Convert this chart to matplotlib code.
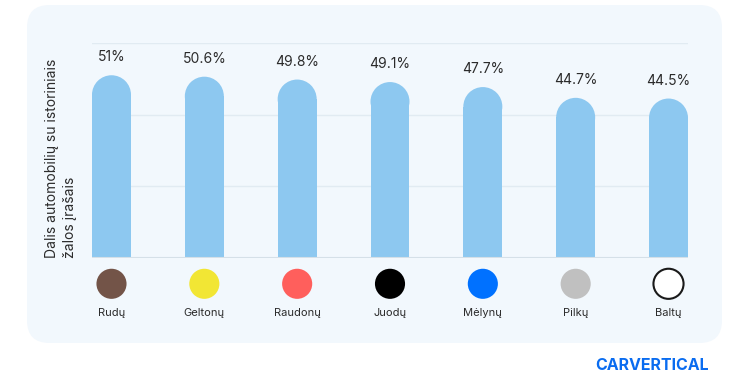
import matplotlib.pyplot as plt
from matplotlib.patches import FancyBboxPatch, Ellipse
from matplotlib.transforms import blended_transform_factory

plt.rcParams["font.family"] = ["Inter", "DejaVu Sans"]

categories = ["Rudų", "Geltonų", "Raudonų", "Juodų", "Mėlynų", "Pilkų", "Baltų"]
values = [51.0, 50.6, 49.8, 49.1, 47.7, 44.7, 44.5]
value_labels = ["51%", "50.6%", "49.8%", "49.1%", "47.7%", "44.7%", "44.5%"]
swatch_colors = ["#735448", "#F2E634", "#FF5F5C", "#000000", "#0071FF", "#C0C0C0", "#FFFFFF"]
y_ticks = [0, 20, 40, 60]

W, H = 750, 375
BAR_COLOR = "#8DC8F0"
TEXT = "#2B2B2B"

fig = plt.figure(figsize=(7.5, 3.75), dpi=100)
fig.patch.set_facecolor("white")

# rounded background panel
panel = FancyBboxPatch((27 / W, (H - 343) / H), (722 - 27) / W, (343 - 5) / H,
                       boxstyle="round,pad=0,rounding_size=0.03",
                       transform=fig.transFigure, facecolor="#F2F8FD",
                       edgecolor="none", mutation_aspect=2.0, zorder=-5)
fig.patches.append(panel)

ax = fig.add_axes([92 / W, (H - 258) / H, 596 / W, 215 / H])
ax.set_facecolor("none")
ax.set_zorder(2)
width = 0.42
x = list(range(len(categories)))
ax.set_xlim(-width / 2, len(categories) - 1 + width / 2)
ax.set_ylim(0, 60)

for t in y_ticks[1:]:
    ax.axhline(t, color="#E1EBF2", lw=1, zorder=1)
ax.axhline(0, color="#D5E0E8", lw=1.5, zorder=3)

# rounded caps: radius in data units along y
px_per_unit = 215 / 60
bar_px = width * 596 / (len(categories) - 1 + width)
ry = (bar_px / 2) / px_per_unit

for xi, v, lab in zip(x, values, value_labels):
    ax.bar(xi, v - ry, width=width, color=BAR_COLOR, zorder=2, linewidth=0)
    ax.add_patch(Ellipse((xi, v - ry), width, 2 * ry, color=BAR_COLOR,
                         zorder=2, linewidth=0))
    ax.text(xi, v + 18 / px_per_unit, lab, ha="center", va="center",
            fontsize=10, color=TEXT)

trans = blended_transform_factory(ax.transData, ax.transAxes)
edges = ["none"] * (len(categories) - 1) + ["#1A1A1A"]
ax.scatter(x, [-0.12] * len(x), s=470, c=swatch_colors, edgecolors=edges,
           linewidths=1.5, transform=trans, clip_on=False, zorder=4)
for xi, c in zip(x, categories):
    ax.text(xi, -0.256, c, transform=trans, ha="center", va="center",
            fontsize=8, color=TEXT)

for s in ax.spines.values():
    s.set_visible(False)
ax.set_xticks([])
ax.set_yticks([])

fig.text(61 / W, (H - 258) / H, "Dalis automobilių su istoriniais\nžalos įrašais",
         rotation=90, ha="center", va="bottom", multialignment="left",
         fontsize=10, color=TEXT, linespacing=1.3)

fig.text(652 / W, 2 / H, "CARVERTICAL", ha="center", va="bottom",
         fontsize=11.5, fontweight="bold", color="#0A6CF0")

fig.savefig("out.png", dpi=100)
